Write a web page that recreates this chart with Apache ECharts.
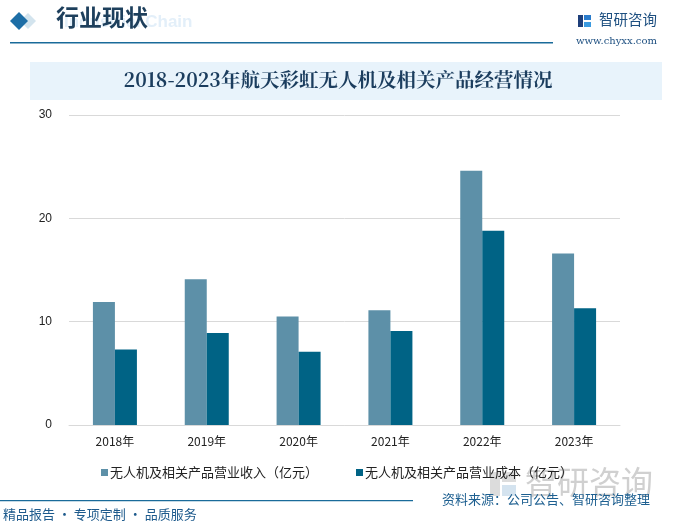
<!DOCTYPE html>
<html><head><meta charset="utf-8">
<script src="https://cdn.jsdelivr.net/npm/echarts@6/dist/echarts.min.js"></script>
<style>html,body{margin:0;padding:0;background:#fff}#c{width:676px;height:531px}</style>
</head><body><div id="c"></div>
<script>
const categories = ['2018年','2019年','2020年','2021年','2022年','2023年'];
const revenue = [11.9, 14.1, 10.5, 11.1, 24.6, 16.6];
const cost = [7.3, 8.9, 7.1, 9.1, 18.8, 11.3];
const seriesNames = ['无人机及相关产品营业收入（亿元）','无人机及相关产品营业成本（亿元）'];
const yTicks = {min:0, max:30, interval:10};

const chart = echarts.init(document.getElementById('c'), null, {renderer:'canvas'});
const cjk = '"Noto Sans CJK SC", "Noto Sans", sans-serif';
chart.setOption({
  animation:false,
  textStyle:{fontFamily:cjk},
  grid:{left:69, right:56, top:115, bottom:106},
  graphic:[
    {type:'text', left:64, top:14, style:{text:'Industrial Chain', fill:'#e3eff9', font:'bold 17px "Liberation Sans", sans-serif'}},
    {type:'polygon', shape:{points:[[20,21],[28,13],[36,21],[28,29]]}, style:{fill:'#d3e4ee'}},
    {type:'polygon', shape:{points:[[10,21],[19,12],[28,21],[19,30]]}, style:{fill:'#1d6ea6'}},
    {type:'text', left:56, top:6, style:{text:'行业现状', fill:'#1d3f5c', font:'bold 23px "Noto Sans CJK SC", sans-serif'}},
    {type:'rect', shape:{x:10,y:42,width:543,height:1.5}, style:{fill:'#1a6b9a'}},
    {type:'rect', shape:{x:578,y:15,width:5,height:12}, style:{fill:'#1e3f7a'}},
    {type:'rect', shape:{x:584,y:15,width:7,height:5}, style:{fill:'#2a7ccc'}},
    {type:'rect', shape:{x:584,y:22,width:7,height:5}, style:{fill:'#3a9ae0'}},
    {type:'text', left:599, top:12, style:{text:'智研咨询', fill:'#1d4f80', font:'14.5px "Noto Sans CJK SC", sans-serif'}},
    {type:'text', left:576, top:36, style:{text:'www.chyxx.com', fill:'#1d4f80', font:'10px "DejaVu Serif", serif'}},
    {type:'rect', shape:{x:30,y:62,width:632,height:38}, style:{fill:'#e8f3fb'}},
    {type:'text', left:'center', top:70, style:{text:'2018-2023年航天彩虹无人机及相关产品经营情况', fill:'#1b3d5e', font:'bold 19.5px "Noto Serif CJK SC", "Noto Sans CJK SC", serif', textAlign:'center'}},
    {type:'rect', shape:{x:490,y:472,width:10,height:24}, style:{fill:'#dcdcdc'}},
    {type:'rect', shape:{x:502,y:472,width:14,height:10}, style:{fill:'#dcdcdc'}},
    {type:'rect', shape:{x:502,y:485,width:14,height:11}, style:{fill:'#d4e3ef'}},
    {type:'text', left:525, top:466, style:{text:'智研咨询', fill:'#d0d0d0', font:'32px "Noto Sans CJK SC", sans-serif'}},
    {type:'rect', shape:{x:0,y:500,width:413,height:1.2}, style:{fill:'#1a6b9a'}},
    {type:'text', left:3, top:508, style:{text:'精品报告 · 专项定制 · 品质服务', fill:'#1d5a8c', font:'13px "Noto Sans CJK SC", sans-serif'}},
    {type:'text', left:442, top:493, style:{text:'资料来源：公司公告、智研咨询整理', fill:'#1d5f90', font:'13px "Noto Sans CJK SC", sans-serif'}}
  ],
  legend:{
    data:seriesNames, left:96, top:461, itemWidth:7, itemHeight:7, itemGap:38, icon:'rect',
    textStyle:{fontSize:13, color:'#222', fontFamily:cjk, padding:[0,0,0,-3]}
  },
  xAxis:{
    type:'category', data:categories,
    axisLine:{lineStyle:{color:'#d9d9d9'}}, axisTick:{show:false},
    axisLabel:{color:'#222', fontSize:12, margin:10, fontFamily:cjk}
  },
  yAxis:{
    type:'value', min:yTicks.min, max:yTicks.max, interval:yTicks.interval,
    axisLine:{show:false}, axisTick:{show:false},
    splitLine:{lineStyle:{color:'#d9d9d9'}},
    axisLabel:{color:'#222', fontSize:12, margin:17, fontFamily:'"Liberation Sans", sans-serif'}
  },
  series:[
    {name:seriesNames[0], type:'bar', data:revenue, barWidth:22, barGap:'0%', itemStyle:{color:'#5d90a8'}},
    {name:seriesNames[1], type:'bar', data:cost, barWidth:22, barGap:'0%', itemStyle:{color:'#006385'}}
  ]
});
</script></body></html>
